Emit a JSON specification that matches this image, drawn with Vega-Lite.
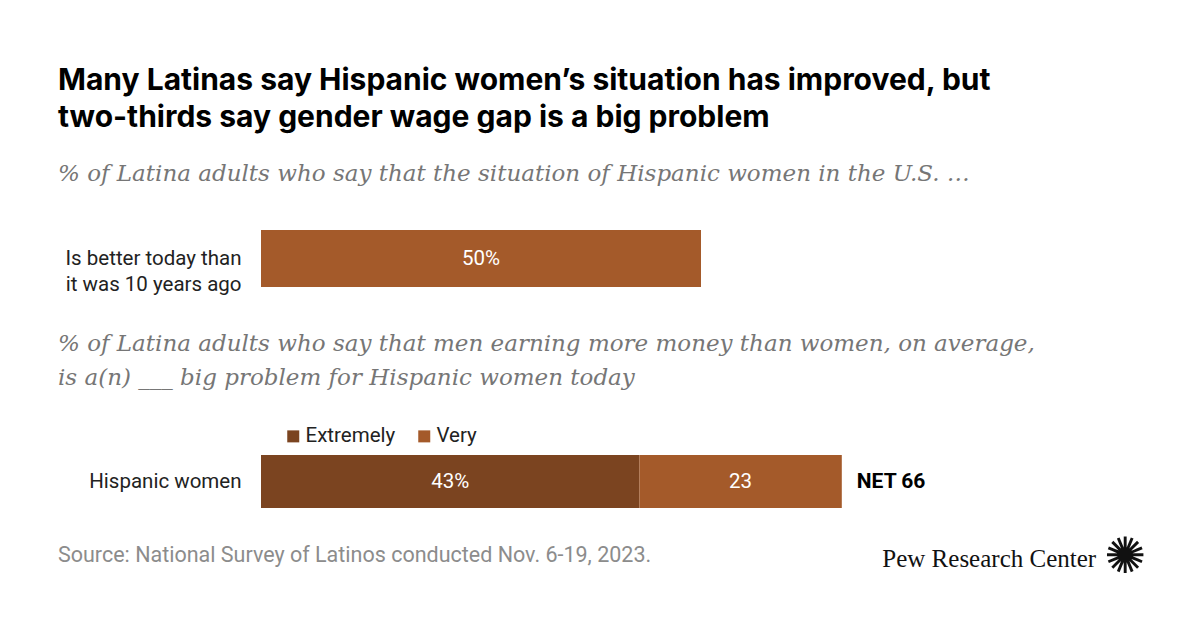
{
  "$schema": "https://vega.github.io/schema/vega-lite/v6.json",
  "background": "white",
  "padding": {"left": 57, "top": 66, "right": 0, "bottom": 0},
  "config": {
    "view": {"stroke": null},
    "font": "Roboto"
  },
  "resolve": {"scale": {"color": "independent"}, "legend": {"color": "independent"}},
  "spacing": 38,
  "title": {
    "text": ["Many Latinas say Hispanic women’s situation has improved, but", "two-thirds say gender wage gap is a big problem"],
    "anchor": "start",
    "frame": "bounds",
    "font": "Inter",
    "fontSize": 30,
    "fontWeight": "bold",
    "color": "#000000",
    "lineHeight": 37,
    "offset": 30
  },
  "datasets": {
    "improved": [
      {"group": "Is better today than it was 10 years ago", "pct": 50, "label": "50%"}
    ],
    "problem": [
      {"group": "Hispanic women", "level": "Extremely", "pct": 43, "label": "43%"},
      {"group": "Hispanic women", "level": "Very", "pct": 23, "label": "23"}
    ],
    "net": [
      {"group": "Hispanic women", "net": 66, "label": "NET 66"}
    ],
    "notes": [
      {"role": "source", "text": "Source: National Survey of Latinos conducted Nov. 6-19, 2023."},
      {"role": "logo", "text": "Pew Research Center"},
      {"role": "icon", "text": "✺"}
    ]
  },
  "vconcat": [
    {
      "width": 880,
      "height": 57,
      "title": {
        "text": "% of Latina adults who say that the situation of Hispanic women in the U.S. …",
        "anchor": "start",
        "frame": "group",
        "dx": -203,
        "font": "DejaVu Serif",
        "fontStyle": "italic",
        "fontWeight": "normal",
        "fontSize": 23,
        "color": "#767676",
        "offset": 44
      },
      "data": {"name": "improved"},
      "encoding": {
        "y": {
          "field": "group",
          "type": "nominal",
          "title": null,
          "scale": {"paddingInner": 0, "paddingOuter": 0},
          "axis": {
            "domain": false,
            "ticks": false,
            "labelPadding": 20,
            "labelFont": "Roboto",
            "labelFontSize": 20.5,
            "labelColor": "#222222",
            "labelLimit": 400,
            "labelLineHeight": 26,
            "labelExpr": "datum.value == 'Is better today than it was 10 years ago' ? ['Is better today than', 'it was 10 years ago'] : datum.value"
          }
        }
      },
      "layer": [
        {
          "mark": {"type": "bar", "color": "#a45a2a"},
          "encoding": {
            "x": {"field": "pct", "type": "quantitative", "stack": "zero", "scale": {"domain": [0, 100]}, "axis": null},
            "detail": {"field": "group"}
          }
        },
        {
          "mark": {"type": "text", "color": "white", "fontSize": 20.5, "align": "center", "baseline": "middle"},
          "encoding": {
            "x": {"field": "pct", "type": "quantitative", "stack": "zero", "bandPosition": 0.5},
            "detail": {"field": "group"},
            "text": {"field": "label"}
          }
        }
      ]
    },
    {
      "spacing": 25,
      "resolve": {"scale": {"color": "independent"}, "legend": {"color": "independent"}},
      "vconcat": [
        {
          "width": 880,
          "height": 53,
          "title": {
            "text": ["% of Latina adults who say that men earning more money than women, on average,", "is a(n) ___ big problem for Hispanic women today"],
            "anchor": "start",
            "frame": "group",
            "dx": -203,
            "font": "DejaVu Serif",
            "fontStyle": "italic",
            "fontWeight": "normal",
            "fontSize": 23,
            "lineHeight": 34,
            "color": "#767676",
            "offset": 36
          },
          "encoding": {
            "y": {
              "field": "group",
              "type": "nominal",
              "title": null,
              "scale": {"paddingInner": 0, "paddingOuter": 0},
              "axis": {
                "domain": false,
                "ticks": false,
                "labelPadding": 20,
                "labelFont": "Roboto",
                "labelFontSize": 20.5,
                "labelColor": "#222222",
                "labelLimit": 400
              }
            }
          },
          "layer": [
            {
              "data": {"name": "problem"},
              "mark": {"type": "bar"},
              "encoding": {
                "x": {"field": "pct", "type": "quantitative", "stack": "zero", "scale": {"domain": [0, 100]}, "axis": null},
                "color": {
                  "field": "level",
                  "type": "nominal",
                  "scale": {"domain": ["Extremely", "Very"], "range": ["#7b4420", "#a45a2a"]},
                  "legend": {
                    "orient": "none",
                    "legendX": 22,
                    "legendY": -29,
                    "direction": "horizontal",
                    "title": null,
                    "symbolType": "square",
                    "symbolSize": 144,
                    "symbolStrokeWidth": 0,
                    "symbolOpacity": 1,
                    "labelFont": "Roboto",
                    "labelFontSize": 20.5,
                    "labelColor": "#222222",
                    "labelOffset": 2,
                    "columnPadding": 18,
                    "padding": 0
                  }
                },
                "order": {"field": "level", "sort": "ascending"}
              }
            },
            {
              "data": {"name": "problem"},
              "mark": {"type": "text", "color": "white", "fontSize": 20.5, "align": "center", "baseline": "middle"},
              "encoding": {
                "x": {"field": "pct", "type": "quantitative", "stack": "zero", "bandPosition": 0.5},
                "detail": {"field": "level"},
                "order": {"field": "level", "sort": "ascending"},
                "text": {"field": "label"}
              }
            },
            {
              "data": {"name": "net"},
              "mark": {"type": "text", "color": "#000000", "fontSize": 21, "fontWeight": "bold", "align": "left", "baseline": "middle", "dx": 15},
              "encoding": {
                "x": {"field": "net", "type": "quantitative"},
                "text": {"field": "label"}
              }
            }
          ]
        },
        {
          "width": 880,
          "height": 10,
          "data": {"name": "notes"},
          "layer": [
            {
              "transform": [{"filter": "datum.role == 'source'"}],
              "mark": {"type": "text", "align": "left", "baseline": "alphabetic", "fontSize": 21.5, "color": "#8c8c8c"},
              "encoding": {
                "x": {"datum": -23.07, "type": "quantitative", "scale": {"domain": [0, 100]}, "axis": null},
                "text": {"field": "text"}
              }
            },
            {
              "transform": [{"filter": "datum.role == 'logo'"}],
              "mark": {"type": "text", "align": "right", "baseline": "alphabetic", "dy": 5, "fontSize": 25, "font": "Liberation Serif", "color": "#111111"},
              "encoding": {
                "x": {"datum": 94.9, "type": "quantitative"},
                "text": {"field": "text"}
              }
            },
            {
              "transform": [{"filter": "datum.role == 'icon'"}],
              "mark": {"type": "text", "align": "center", "baseline": "middle", "dy": -4, "fontSize": 50, "font": "DejaVu Sans", "color": "#111111"},
              "encoding": {
                "x": {"datum": 98.2, "type": "quantitative"},
                "text": {"field": "text"}
              }
            }
          ]
        }
      ]
    }
  ]
}
